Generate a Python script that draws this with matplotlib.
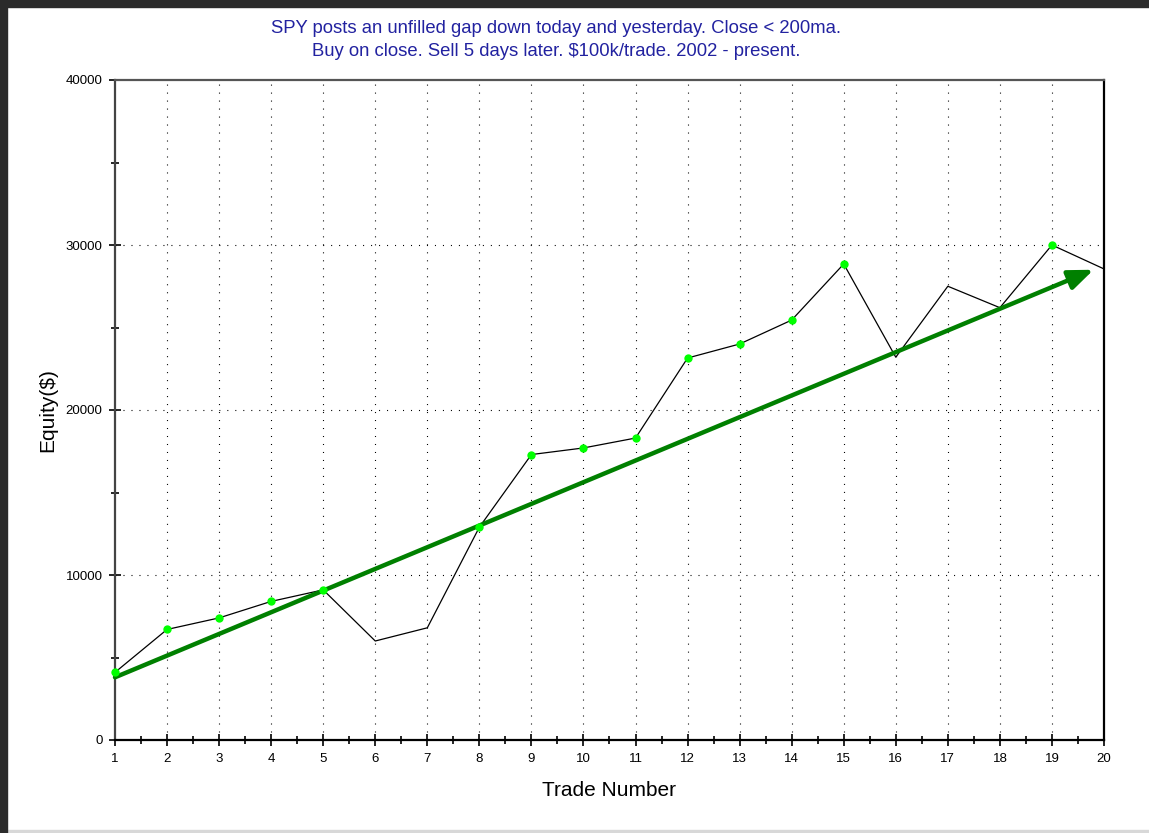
import numpy as np
import matplotlib
matplotlib.use("Agg")
import matplotlib.pyplot as plt
from matplotlib.patches import Rectangle
from matplotlib.ticker import MultipleLocator

plt.rcParams['font.family'] = ['Liberation Sans', 'DejaVu Sans']
plt.rcParams['lines.scale_dashes'] = False

# --- data ---
trades = list(range(1, 21))
equity = [4100, 6700, 7400, 8400, 9100, 6000, 6800, 12900, 17300, 17700,
          18300, 23150, 24000, 25450, 28850, 23200, 27500, 26200, 30000, 28550]
trend_start = (1, 3800)
trend_end = (19.8, 28500)
title = ("SPY posts an unfilled gap down today and yesterday. Close < 200ma.\n"
         "Buy on close. Sell 5 days later. $100k/trade. 2002 - present.")

equity = np.array(equity)
trades = np.array(trades)
new_high = equity >= np.maximum.accumulate(equity)

W, H = 1149, 833
fig = plt.figure(figsize=(W / 100, H / 100), dpi=100)
ax = fig.add_axes([115 / W, 1 - 740 / H, (1104 - 115) / W, (740 - 80) / H])

dot = (0, (0.75, 5.0))
for gx in range(2, 20):
    ax.axvline(gx, color='black', lw=0.8, ls=dot, zorder=1)
for gy in (10000, 20000, 30000):
    ax.axhline(gy, color='black', lw=0.8, ls=dot, zorder=1)

ax.plot(trades, equity, color='black', lw=0.9, zorder=3)

ax.annotate('', xy=trend_end, xytext=trend_start,
            arrowprops=dict(arrowstyle='-|>,head_length=1.5,head_width=0.6',
                            color='#008000', lw=3.2, shrinkA=0, shrinkB=0),
            zorder=5)

ax.plot(trades[new_high], equity[new_high], 'o', color='#00ff00',
        ms=6, mec='none', zorder=6, clip_on=False)

ax.set_xlim(1, 20)
ax.set_ylim(0, 40000)
ax.xaxis.set_major_locator(MultipleLocator(1))
ax.xaxis.set_minor_locator(MultipleLocator(0.5))
ax.yaxis.set_major_locator(MultipleLocator(10000))
ax.yaxis.set_minor_locator(MultipleLocator(5000))
ax.tick_params(which='major', direction='inout', length=8, width=1.2,
               labelsize=9.5, pad=5)
ax.tick_params(which='minor', direction='inout', length=6, width=1.2)

for s in ax.spines.values():
    s.set_linewidth(1.6)
ax.spines['top'].set_color('#555555')
ax.spines['left'].set_color('#444444')

ax.set_xlabel('Trade Number', fontsize=15, labelpad=12)
ax.set_ylabel('Equity($)', fontsize=15, labelpad=6)

fig.text(556 / W, 1 - 40 / H, title, ha='center', va='center',
         fontsize=13.3, color='#2222a0', linespacing=1.45)

# screenshot frame
fig.patches.append(Rectangle((0, 0), 7 / W, 1, transform=fig.transFigure,
                             color='#2b2b2b', zorder=10))
fig.patches.append(Rectangle((0, 1 - 7 / H), 1, 7 / H, transform=fig.transFigure,
                             color='#2b2b2b', zorder=10))
fig.patches.append(Rectangle((0, 0), 1, 3 / H, transform=fig.transFigure,
                             color='#d8d8d8', zorder=9))

fig.savefig('out.png', dpi=100)
